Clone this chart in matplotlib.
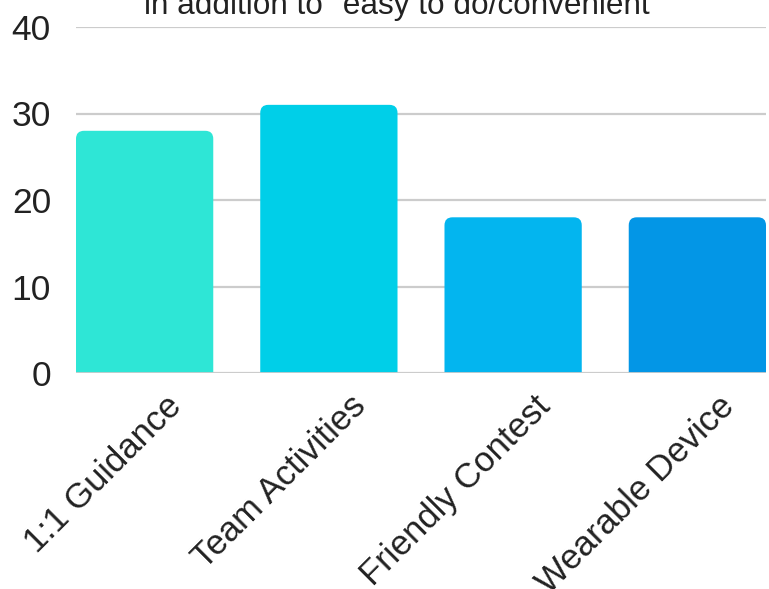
import matplotlib
matplotlib.use("Agg")
import matplotlib.pyplot as plt
from matplotlib.patches import FancyBboxPatch
import matplotlib.transforms as mtransforms

categories = ["1:1 Guidance", "Team Activities", "Friendly Contest", "Wearable Device"]
values = [28, 31, 18, 18]
colors = ["#2ee6d6", "#00cfe8", "#03b5ef", "#0396e6"]
yticks = [0, 10, 20, 30, 40]
title = 'in addition to "easy to do/convenient"'

plt.rcParams['font.family'] = ['Liberation Sans', 'DejaVu Sans']

W, H = 769, 589
fig = plt.figure(figsize=(W / 100, H / 100), dpi=100)
left, right = 76 / W, 766 / W
bottom, top = (H - 373) / H, (H - 27) / H
ax = fig.add_axes([left, bottom, right - left, top - bottom])

bw = 0.745
x = list(range(len(categories)))
bars = ax.bar(x, values, width=bw, color=colors, zorder=2)
ax.set_xlim(-bw / 2, len(categories) - 1 + bw / 2)
ax.set_ylim(0, 40)

# rounded tops
fig.canvas.draw()
xpx = ax.get_window_extent().width / (ax.get_xlim()[1] - ax.get_xlim()[0])
ypx = ax.get_window_extent().height / (ax.get_ylim()[1] - ax.get_ylim()[0])
r_px = 8
for b in bars:
    bx, by = b.get_x(), b.get_y()
    bwid, bh = b.get_width(), b.get_height()
    b.set_visible(False)
    ext = 2.0
    p = FancyBboxPatch((bx, by - ext), bwid, bh + ext,
                       boxstyle=f"round,pad=0,rounding_size={r_px / xpx}",
                       mutation_aspect=xpx / ypx,
                       facecolor=b.get_facecolor(), edgecolor='none', zorder=2)
    ax.add_patch(p)

for s in ax.spines.values():
    s.set_visible(False)
ax.set_yticks(yticks)
ax.set_yticklabels([str(t) for t in yticks])
ax.grid(axis='y', color='#cccccc', linewidth=1.6, zorder=0)
ax.axhline(0, color='#cccccc', linewidth=2.0, zorder=3)
ax.tick_params(axis='y', length=0, pad=18, labelsize=25.5, labelcolor='#222222')
ax.tick_params(axis='x', length=0, pad=6)
ax.set_xticks(x)
ax.set_xticklabels(categories, rotation=45, ha='right', va='top',
                   rotation_mode='anchor', fontsize=25, color='#222222')
offset = mtransforms.ScaledTranslation(20 / 100, -8 / 100, fig.dpi_scale_trans)
for lab in ax.get_xticklabels():
    lab.set_transform(lab.get_transform() + offset)

fig.text(402 / W, (H - 14) / H, title, ha='center', va='baseline',
         fontsize=22.7, color='#222222')

fig.savefig("out.png", dpi=100)
